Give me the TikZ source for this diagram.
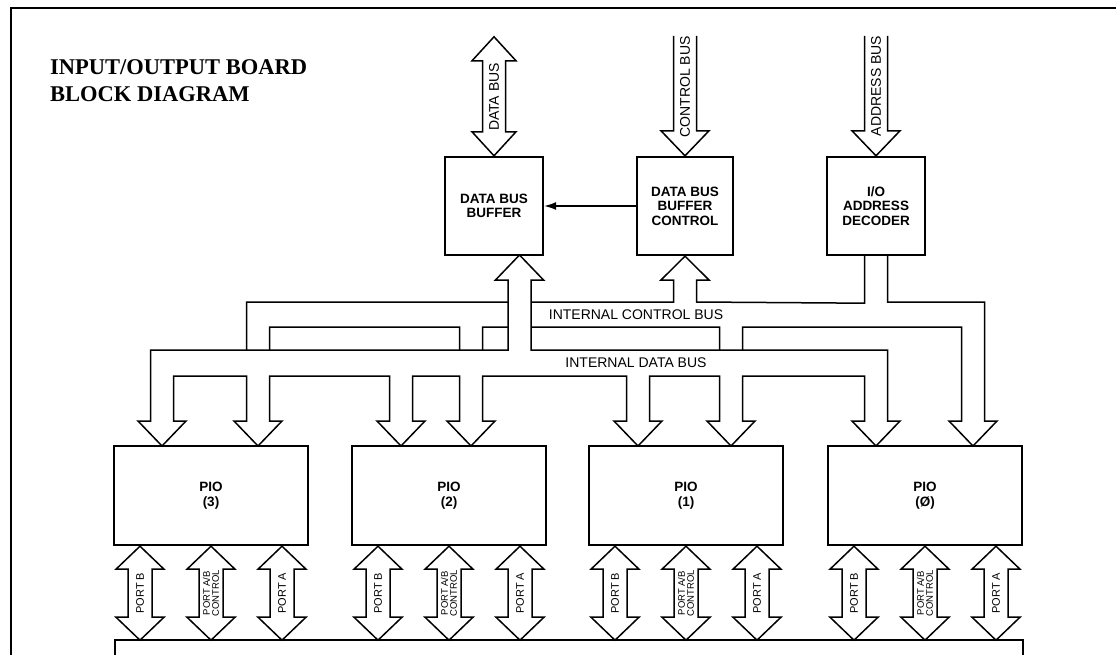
\documentclass[tikz,border=0pt]{standalone}
\usepackage{fontspec}
\setsansfont{Liberation Sans}
\newfontfamily\titlefont{Liberation Serif}
\usetikzlibrary{arrows.meta,calc}
\begin{document}
\begin{tikzpicture}
	[x=1pt, y=-1pt,
	box/.style={draw, line width=2.4pt, inner sep=0pt, align=center, font=\sffamily\bfseries\fontsize{13.5}{14.5}\selectfont},
	pipe/.style={line width=1.5pt},
	headdown/.style={insert path={-- ++(-12.5,0) -- ++(24,25) -- ++(24,-25) -- ++(-12.5,0)}},
	buslbl/.style={inner sep=0pt, font=\sffamily\fontsize{14}{14}\selectfont},
	vlbl/.style={rotate=90, inner sep=0pt, font=\sffamily\fontsize{14}{14}\selectfont},
	portlbl/.style={rotate=90, inner sep=0pt, align=center, font=\sffamily\fontsize{11}{9.5}\selectfont}]
	\useasboundingbox (0,0) rectangle (1116,655);
	\draw[line width=2pt] (1116,8) -- (10.5,8) -- (10.5,660);
	\node[anchor=north west, inner sep=0pt, align=left, font=\titlefont\bfseries\fontsize{22.5}{27}\selectfont] (title) at (50,59) {INPUT/OUTPUT BOARD\\BLOCK DIAGRAM};
	
	\node[box, minimum width=98pt, minimum height=98pt] (dbb) at (494,206) {DATA BUS\\BUFFER};
	\node[box, minimum width=96pt, minimum height=98pt] (dbc) at (685,206) {DATA BUS\\BUFFER\\CONTROL};
	\node[box, minimum width=98pt, minimum height=98pt] (dec) at (876,206) {I/O\\ADDRESS\\DECODER};
	
	\node[box, minimum width=194pt, minimum height=99pt] (p3) at (211,495.5) {PIO\\(3)};
	\node[box, minimum width=194pt, minimum height=99pt] (p2) at (449,495.5) {PIO\\(2)};
	\node[box, minimum width=194pt, minimum height=99pt] (p1) at (686,495.5) {PIO\\(1)};
	\node[box, minimum width=194pt, minimum height=99pt] (p0) at (925,495.5) {PIO\\(Ø)};
	\node[box, anchor=north west, minimum width=908pt, minimum height=40pt] (bus) at (114,639) {};
	
	\draw[pipe] (dbb.north) -- ++(-22,-24) -- ++(10.5,0) -- ++(0,-71) -- ++(-10.5,0) -- ++(22,-24) -- ++(22,24) -- ++(-10.5,0) -- ++(0,71) -- ++(10.5,0) -- cycle;
	\draw[pipe] (dbc.north) ++(-11.5,-120) -- ++(0,95) -- ++(-12.5,0) -- (dbc.north) -- ++(24,-25) -- ++(-12.5,0) -- ++(0,-95);
	\draw[pipe] (dec.north) ++(-11.5,-120) -- ++(0,95) -- ++(-12.5,0) -- (dec.north) -- ++(24,-25) -- ++(-12.5,0) -- ++(0,-95);
	\draw[line width=1.3pt, -{Latex[length=12pt,width=8pt]}] (dbc.west) -- (dbb.east);
	
	\node[vlbl] (ldb) at (494,97) {DATA BUS};
	\node[vlbl] (lcb) at (685,87) {CONTROL BUS};
	\node[vlbl] (lab) at (876,86) {ADDRESS BUS};
	
	\draw[pipe] (508,280) -- (508,350) -- (150.5,350) -- (150.5,421) [headdown]
		|- (246.5,376) -- (246.5,421) [headdown]
		|- (389.5,376) -- (389.5,421) [headdown]
		|- (459.5,376) -- (459.5,421) [headdown]
		|- (626.5,376) -- (626.5,421) [headdown]
		|- (719.5,376) -- (719.5,421) [headdown]
		|- (864.5,376) -- (864.5,421) [headdown]
		-- (887.5,350) -- (531,350) -- (531,280) -- (543.5,280) -- (519.5,255) -- (495.5,280) -- cycle;
	\draw[pipe] (dec.south) ++(-11.5,0) -- ++(0,47) -- (696.5,302) -- (696.5,280) -- (709,280) -- (dbc.south) -- (661,280) -- (673.5,280) -- (673.5,302) -- (531,302)
		(508,302) -- (246.5,302) -- (246.5,350);
	\draw[pipe] (269.5,350) |- (459.5,327) -- (459.5,350)
		(482.5,350) |- (508,327)
		(531,327) -| (719.5,350)
		(742.5,350) |- (961.5,327) -- (961.5,421) [headdown] -- (984.5,302) -| ($(dec.south)+(11.5,0)$);
	\node[buslbl] (icb) at (636,314.5) {INTERNAL CONTROL BUS};
	\node[buslbl] (idb) at (636,363) {INTERNAL DATA BUS};
	
	\foreach \p in {p3,p2,p1,p0}{
		\foreach \dx in {-71,0,71}
			\draw[pipe] ($(\p.south)+(\dx,0)$) -- ++(24,23) -- ++(-12,0) -- ++(0,48) -- ++(12,0) -- ++(-24,23) -- ++(-24,-23) -- ++(12,0) -- ++(0,-48) -- ++(-12,0) -- cycle;
		\node[portlbl] (\p-b) at ($(\p.south)+(-71,47)$) {PORT B};
		\node[portlbl, font=\sffamily\fontsize{9.5}{9}\selectfont] (\p-c) at ($(\p.south)+(0,47)$) {PORT A/B\\CONTROL};
		\node[portlbl] (\p-a) at ($(\p.south)+(71,47)$) {PORT A};
	}
\end{tikzpicture}
\end{document}
